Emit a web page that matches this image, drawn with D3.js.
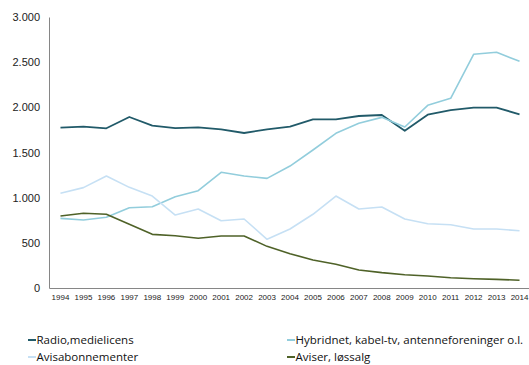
<!DOCTYPE html>
<html>
<head>
<meta charset="utf-8">
<script src="https://cdn.jsdelivr.net/npm/d3@7"></script>
<style>
  html, body { margin: 0; padding: 0; background: #fff; }
  svg { display: block; font-family: "Open Sans", "Liberation Sans", sans-serif; }
</style>
</head>
<body>
<svg id="chart" width="529" height="365"></svg>
<script>
const years = ["1994","1995","1996","1997","1998","1999","2000","2001","2002","2003","2004",
               "2005","2006","2007","2008","2009","2010","2011","2012","2013","2014"];
const radio = [1775,1786,1768,1893,1797,1770,1779,1757,1716,1757,1786,1867,1867,1904,1915,1741,1919,1970,1996,1996,1923];
const hybridnet = [771,753,783,889,900,1011,1077,1281,1240,1214,1350,1528,1712,1823,1889,1782,2022,2100,2587,2609,2509];
const avisabonnementer = [1048,1111,1240,1114,1018,808,874,745,764,539,653,816,1018,874,897,764,712,701,653,653,634];
const aviserLossalg = [797,827,816,705,594,579,550,576,576,461,380,310,262,199,170,147,133,114,103,96,85];
const yTicks = [0,500,1000,1500,2000,2500,3000];

const seriesNames = ["Radio,medielicens","Hybridnet, kabel-tv, antenneforeninger o.l.","Avisabonnementer","Aviser, løssalg"];
const seriesValues = [radio, hybridnet, avisabonnementer, aviserLossalg];
const seriesColors = ["#215a69","#92cddc","#c6e0f4","#4f6228"];

const svg = d3.select("#chart");
const plotLeft = 49, plotRight = 531, plotTop = 17, plotBottom = 288;

const x = d3.scaleBand().domain(years).range([plotLeft, plotRight]);
const y = d3.scaleLinear().domain([0, 3000]).range([plotBottom, plotTop]);
const fmt = d => d3.format(",")(d).replace(/,/g, ".");

// y axis
const yAxis = svg.append("g").attr("transform", `translate(${plotLeft},0)`)
  .call(d3.axisLeft(y).tickValues(yTicks).tickSize(0).tickPadding(9).tickFormat(fmt));
yAxis.select(".domain").attr("stroke", "#868686").attr("stroke-width", 1);
yAxis.selectAll("text").attr("fill", "#222").attr("font-size", 11);

// x axis
const xAxis = svg.append("g").attr("transform", `translate(0,${plotBottom})`)
  .call(d3.axisBottom(x).tickSize(0).tickPadding(6));
xAxis.select(".domain").attr("stroke", "#868686").attr("stroke-width", 1);
xAxis.selectAll("text").attr("fill", "#222").attr("font-size", 8);

// lines
const line = d3.line().x((d, i) => x(years[i]) + x.bandwidth() / 2).y(d => y(d));
svg.append("g").selectAll("path")
  .data(seriesValues)
  .join("path")
  .attr("d", d => line(d))
  .attr("fill", "none")
  .attr("stroke", (d, i) => seriesColors[i])
  .attr("stroke-width", (d, i) => i === 0 ? 1.8 : 1.6)
  .attr("stroke-linejoin", "round");

// legend: two columns, two rows
const legendPos = [[28, 340], [287, 340], [28, 357], [287, 357]];
const lg = svg.append("g").selectAll("g")
  .data(seriesNames)
  .join("g")
  .attr("transform", (d, i) => `translate(${legendPos[i][0]},${legendPos[i][1]})`);
lg.append("line").attr("x1", 0).attr("x2", 8).attr("y1", 0).attr("y2", 0)
  .attr("stroke", (d, i) => seriesColors[i]).attr("stroke-width", 2);
lg.append("text").attr("x", 8.5).attr("y", 0).attr("dy", "0.35em")
  .attr("font-size", 11.5).attr("fill", "#111").text(d => d);
</script>
</body>
</html>
